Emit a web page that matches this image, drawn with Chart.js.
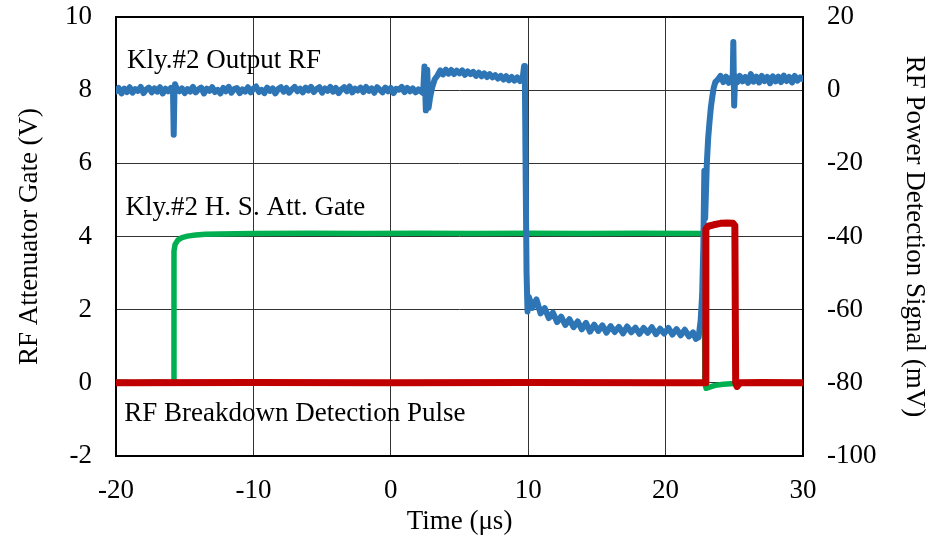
<!DOCTYPE html>
<html>
<head>
<meta charset="utf-8">
<script src="https://cdn.jsdelivr.net/npm/chart.js@4"></script>
<style>
  html, body { margin: 0; padding: 0; background: #fff; }
  canvas { display: block; }
</style>
</head>
<body>
<canvas id="rf-chart" width="933" height="539"></canvas>
<script>
// Kly.#2 output RF power detection signal (mV, right axis)
var rfTime = [
  -20, -19.8, -19.6, -19.4, -19.2, -19, -18.8, -18.6, -18.4, -18.2, -18,
  -17.8, -17.6, -17.4, -17.2, -17, -16.8, -16.6, -16.4, -16.2, -16,
  -15.85, -15.8, -15.75, -15.7, -15.6, -15.4,
  -15.2, -15, -14.8, -14.6, -14.4, -14.2, -14, -13.8, -13.6, -13.4, -13.2,
  -13, -12.8, -12.6, -12.4, -12.2, -12, -11.8, -11.6, -11.4, -11.2, -11,
  -10.8, -10.6, -10.4, -10.2, -10, -9.8, -9.6, -9.4, -9.2, -9, -8.8,
  -8.6, -8.4, -8.2, -8, -7.8, -7.6, -7.4, -7.2, -7, -6.8, -6.6,
  -6.4, -6.2, -6, -5.8, -5.6, -5.4, -5.2, -5, -4.8, -4.6, -4.4,
  -4.2, -4, -3.8, -3.6, -3.4, -3.2, -3, -2.8, -2.6, -2.4, -2.2,
  -2, -1.8, -1.6, -1.4, -1.2, -1, -0.8, -0.6, -0.4, -0.2, 0,
  0.2, 0.4, 0.6, 0.8, 1, 1.2, 1.4, 1.6, 1.8, 2, 2.2,
  2.35, 2.45, 2.55, 2.65, 2.75, 2.85,
  3, 3.2, 3.4, 3.6, 3.8, 4, 4.2, 4.4, 4.6, 4.8, 5, 5.2,
  5.4, 5.6, 5.8, 6, 6.2, 6.4, 6.6, 6.8, 7, 7.2, 7.4,
  7.6, 7.8, 8, 8.2, 8.4, 8.6, 8.8, 9, 9.2, 9.4, 9.6,
  9.7, 9.76, 9.82, 9.88, 9.95,
  10.05, 10.3, 10.6, 10.9, 11.2, 11.5, 11.8, 12.1, 12.4, 12.7, 13, 13.3,
  13.6, 13.9, 14.2, 14.5, 14.8, 15.1, 15.4, 15.7, 16, 16.3, 16.6, 16.9,
  17.2, 17.5, 17.8, 18.1, 18.4, 18.7, 19, 19.3, 19.6, 19.9, 20.2, 20.5,
  20.8, 21.1, 21.4, 21.7, 22, 22.2, 22.4,
  22.55, 22.66, 22.75, 22.82, 22.88, 23, 23.1, 23.2, 23.3, 23.4, 23.5, 23.62, 23.8,
  24, 24.2, 24.4, 24.6, 24.8, 24.88, 24.93, 24.99, 25.06, 25.2, 25.4, 25.6,
  25.8, 26, 26.2, 26.4, 26.6, 26.8, 27, 27.2, 27.4, 27.6, 27.8, 28,
  28.2, 28.4, 28.6, 28.8, 29, 29.2, 29.4, 29.6, 29.8, 30
];
var rfMv = [
  -0.3, 0.6, -0.9, 0.4, -0.5, 0.8, -0.7, 0.3, -0.2, 0.9, -0.8,
  0.2, 0.7, -0.6, 0.5, -0.4, 0.8, -0.9, 0.4, -0.3, 0.6,
  -0.6, -12.2, -1.2, 1.6, 0.5, -0.3,
  0.5, -0.8, 0.3, -0.4, 0.9, -0.6, 0.2, 0.7, -0.9, 0.4, -0.2,
  0.8, -0.5, 0.1, -0.9, 0.6, -0.3, 0.9, -0.7, 0.3, 0.6, -0.8,
  0.2, -0.4, 0.8, -0.6, 0.4, 1, -0.5, 0.1, -0.8, 0.7, -0.2,
  0.5, -0.9, 0.3, 0.8, -0.4, 0.6, -0.7, 0.2, 0.9, -0.3, 0.4,
  -0.6, 0.7, -0.1, 0.9, -0.5, 0.3, 0.8, -0.7, 0.5, -0.2, 0.9,
  -0.4, 0.6, -0.8, 0.2, 0.8, -0.3, 1, -0.6, 0.4, -0.1, 0.7,
  -0.5, 0.9, -0.2, 0.5, -0.7, 0.8, 0.1, -0.6, 0.7, -0.3, 0.6,
  -0.8, 0.4, 0.1, 0.9, -0.5, 0.6, -0.3, 0.5, -0.6, 0.2, -0.4,
  -0.8, 6.5, -5.5, 5.6, -4.8, -2.2,
  0.6, 3, 4, 5.4, 4.3, 5.6, 4.5, 5.5, 4.4, 5.3, 4.6, 5.4,
  4.2, 5.1, 4.4, 5, 3.9, 4.8, 3.8, 4.6, 3.6, 4.4, 3.5,
  4.1, 3.2, 3.9, 2.9, 3.8, 2.7, 3.6, 2.6, 3.5, 2.5, 3.4,
  6.6, 2.2, -25, -50, -60.5,
  -56.5, -59.5, -57.2, -61, -59.6, -62.3, -60.8, -63.4, -61.9, -64.2, -62.6, -64.8,
  -63.2, -65.4, -63.6, -66, -64.1, -65.8, -64.3, -66.3, -64.5, -66.1, -64.7, -66.5,
  -64.6, -66.2, -64.9, -66.6, -65, -66.3, -64.8, -66.7, -65.2, -66.5, -65, -66.8,
  -65.3, -67, -65.5, -67.3, -66.2, -68, -67.6,
  -63, -56, -42, -22, -35, -20, -13, -8.5, -4.5, -1.8, 0.6, 2.2, 2.9,
  3.9, 2.2, 3.7, 2, 3.5, 2.6, 13.2, -4.2, 3.8, 2.1, 3.9, 2.4,
  3.6, 2, 4.4, 2.3, 3.7, 2.1, 3.9, 2.5, 3.6, 1.9, 3.8, 2.4,
  3.7, 2.2, 4, 2.5, 3.6, 2.1, 3.9, 2.6, 3.5, 3
];

// H. S. attenuator gate (V, left axis)
var gateTime = [-20, -18.5, -17, -15.82, -15.78, -15.7, -15.5, -15.2, -14.8, -14.2, -13.5, -12.5,
  -10, -6, -2, 2, 6, 10, 14, 18, 22.8, 22.86, 22.95, 23.2, 23.6, 24.2, 25, 27, 30];
var gateV = [0.02, 0, 0.02, 0, 3.6, 3.78, 3.9, 3.97, 4.01, 4.04, 4.06, 4.07,
  4.08, 4.09, 4.08, 4.09, 4.08, 4.09, 4.08, 4.09, 4.08, 0, -0.15, -0.12, -0.07, -0.04, -0.02, 0, 0.01];

// breakdown detection pulse (V, left axis)
var pulseTime = [-20, -10, 0, 10, 20, 22.88, 22.93, 23.1, 23.5, 24, 24.5, 24.9, 25.04, 25.1, 25.2, 25.4, 27, 30];
var pulseV = [0, 0.01, 0, 0.01, 0, 0, 4.2, 4.28, 4.32, 4.36, 4.37, 4.36, 4.3, 0, -0.1, 0, 0.01, 0];

var traceLabels = [
  { text: "Kly.#2 Output RF", x: -19.2, y: 8.6 },
  { text: "Kly.#2 H. S. Att. Gate", x: -19.3, y: 4.59 },
  { text: "RF Breakdown Detection Pulse", x: -19.4, y: -1.05 }
];

var serif = "'Liberation Serif', 'Times New Roman', serif";

function pts(xs, ys) {
  return xs.map(function (t, i) { return { x: t, y: ys[i] }; });
}

// black frame round the plot area
var framePlugin = {
  id: 'frame',
  beforeDatasetsDraw: function (chart) {
    var a = chart.chartArea, ctx = chart.ctx;
    ctx.save();
    ctx.strokeStyle = '#000';
    ctx.lineWidth = 2;
    ctx.strokeRect(a.left, a.top, a.right - a.left, a.bottom - a.top);
    ctx.restore();
  }
};

// text next to each trace
var labelPlugin = {
  id: 'traceLabels',
  afterDatasetsDraw: function (chart) {
    var ctx = chart.ctx, xs = chart.scales.x, ys = chart.scales.y;
    ctx.save();
    ctx.font = "27px " + serif;
    ctx.fillStyle = '#000';
    ctx.textAlign = 'left';
    ctx.textBaseline = 'alphabetic';
    traceLabels.forEach(function (l) {
      ctx.fillText(l.text, xs.getPixelForValue(l.x), ys.getPixelForValue(l.y));
    });
    ctx.restore();
  }
};

function fixWidth(w) {
  return function (scale) {
    scale.width = w;
    scale.paddingTop = 0;
    scale.paddingBottom = 0;
  };
}

new Chart(document.getElementById("rf-chart"), {
  type: 'line',
  data: {
    datasets: [
      {
        label: "RF Breakdown Detection Pulse",
        data: pts(pulseTime, pulseV),
        yAxisID: 'y',
        borderColor: "#C00000",
        borderWidth: 7
      },
      {
        label: "Kly.#2 Output RF",
        data: pts(rfTime, rfMv),
        yAxisID: 'y2',
        borderColor: "#2E75B6",
        borderWidth: 6
      },
      {
        label: "Kly.#2 H. S. Att. Gate",
        data: pts(gateTime, gateV),
        yAxisID: 'y',
        borderColor: "#00B050",
        borderWidth: 5.5
      }
    ]
  },
  options: {
    responsive: false,
    animation: false,
    devicePixelRatio: 1,
    layout: { padding: { top: 17, left: 0, right: 0, bottom: 0 } },
    elements: {
      point: { radius: 0 },
      line: { tension: 0, borderJoinStyle: 'round', borderCapStyle: 'round' }
    },
    plugins: {
      legend: { display: false },
      tooltip: { enabled: false }
    },
    scales: {
      x: {
        type: 'linear',
        min: -20,
        max: 30,
        ticks: { stepSize: 10, color: '#000', padding: 19, font: { family: serif, size: 27 } },
        grid: { color: '#333', lineWidth: 1, drawTicks: false },
        border: { display: false },
        title: { display: true, text: 'Time (μs)', color: '#000', padding: { top: 0, bottom: 1 }, font: { family: serif, size: 27 } },
        afterFit: function (scale) {
          scale.height = 83;
          scale.paddingLeft = 0;
          scale.paddingRight = 0;
        }
      },
      y: {
        position: 'left',
        min: -2,
        max: 10,
        ticks: { stepSize: 2, color: '#000', padding: 24, font: { family: serif, size: 27 } },
        grid: { color: '#333', lineWidth: 1, drawTicks: false },
        border: { display: false },
        title: { display: true, text: 'RF Attenuator Gate (V)', color: '#000', padding: { top: 14, bottom: 0 }, font: { family: serif, size: 27 } },
        afterFit: fixWidth(116)
      },
      y2: {
        position: 'right',
        min: -100,
        max: 20,
        ticks: { stepSize: 20, color: '#000', padding: 24, font: { family: serif, size: 27 } },
        grid: { drawOnChartArea: false, drawTicks: false },
        border: { display: false },
        title: { display: true, text: 'RF Power Detection Signal (mV)', color: '#000', padding: { top: 3, bottom: 0 }, font: { family: serif, size: 27 } },
        afterFit: fixWidth(130)
      }
    }
  },
  plugins: [framePlugin, labelPlugin]
});
</script>
</body>
</html>
